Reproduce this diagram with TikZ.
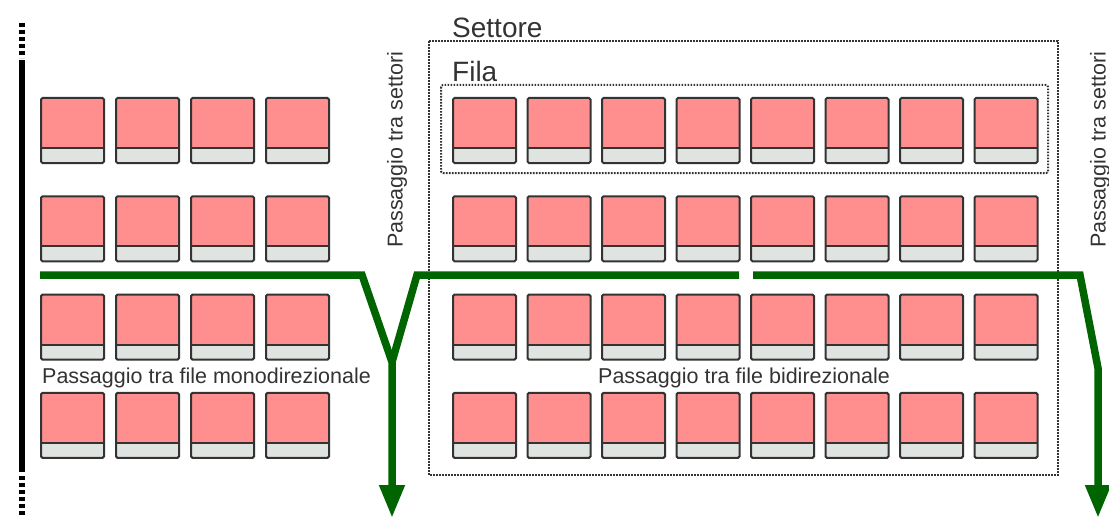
\documentclass[tikz,border=0pt]{standalone}
\usepackage{fontspec}
\setmainfont{Liberation Sans}
\usetikzlibrary{arrows.meta}
\definecolor{rosa}{RGB}{255,143,143}
\definecolor{grigiolino}{RGB}{224,228,224}
\definecolor{verdone}{RGB}{0,100,0}
\definecolor{scritta}{RGB}{51,51,51}
\tikzset{
  poltrona/.style={draw=black!80,line width=2pt,rounded corners=1.5pt},
  corsia/.style={draw=verdone,line width=7.5pt},
  muro/.style={draw=black,line width=6.5pt},
  confine/.style={draw=black!80,line width=2pt,dash pattern=on 1.6pt off 1.4pt},
  grande/.style={font=\fontsize{28}{30}\selectfont,text=scritta,inner sep=0pt},
  piccola/.style={font=\fontsize{21.5}{23}\selectfont,text=scritta,inner sep=0pt},
}
\newcommand{\poltrona}[2]{%
  \fill[rosa,rounded corners=1.5pt] (#1,#2) rectangle ++(63,65);
  \fill[grigiolino] (#1,#2+50) rectangle ++(63,15);
  \draw[black!80,line width=2pt] (#1,#2+50) -- ++(63,0);
  \draw[poltrona] (#1,#2) rectangle ++(63,65);}
\begin{document}
\begin{tikzpicture}[x=1pt,y=-1pt,>={Triangle[length=33pt,width=24pt]}]
  \useasboundingbox (0,0) rectangle (1109,519);
  \draw[muro,dash pattern=on 4pt off 3pt] (22,23)--(22,58);
  \draw[muro] (22,60)--(22,472);
  \draw[muro,dash pattern=on 4pt off 3pt] (22,476)--(22,517);
  \foreach \r in {0,...,3}{
    \foreach \c in {0,...,3} \poltrona{41+75*\c}{98+98.3*\r};
    \foreach \c in {0,...,7} \poltrona{453+74.5*\c}{98+98.3*\r};
  }
  \draw[confine] (429,41) rectangle (1058,475);
  \draw[confine,rounded corners=2pt] (441,85) rectangle (1048,173);
  \node[grande,anchor=west] (settore) at (452,28) {Settore};
  \node[grande,anchor=west] (fila) at (452,71) {Fila};
  \node[piccola,anchor=west] (mono) at (42,378) {Passaggio tra file monodirezionale};
  \node[piccola] (bidi) at (744,378) {Passaggio tra file bidirezionale};
  \node[piccola,rotate=90] (varco1) at (397,150) {Passaggio tra settori};
  \node[piccola,rotate=90] (varco2) at (1100,150) {Passaggio tra settori};
  \coordinate (ovest) at (40,275);
  \coordinate (curva1) at (362,275);
  \coordinate (incrocio) at (392,362);
  \coordinate (curva2) at (417,275);
  \coordinate (pausa1) at (739,275);
  \coordinate (pausa2) at (753,275);
  \coordinate (curva3) at (1080,275);
  \coordinate (piega) at (1098,368);
  \coordinate (uscita1) at (392,518);
  \coordinate (uscita2) at (1098,518);
  \draw[corsia,->] (ovest)--(curva1)--(incrocio)--(uscita1);
  \draw[corsia] (pausa1)--(curva2)--(incrocio);
  \draw[corsia,->] (pausa2)--(curva3)--(piega)--(uscita2);
\end{tikzpicture}
\end{document}
